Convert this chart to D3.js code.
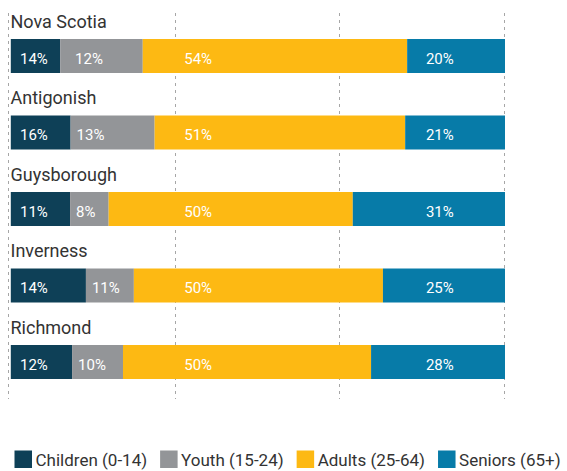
<!DOCTYPE html>
<meta charset="utf-8" />
<style>
    body { margin: 0; background: #fff; }
    text { font-family: Roboto, "Noto Sans", sans-serif; }
    .grid line { stroke: #a6a6a6; stroke-width: 1; stroke-dasharray: 3, 4; }
</style>
<svg width="567" height="471"></svg>
<script src="https://d3js.org/d3.v7.min.js"></script>
<script>
    // regions (rows, top to bottom)
    var regions = ["Nova Scotia", "Antigonish", "Guysborough", "Inverness", "Richmond"];
    var groups = ["Children (0-14)", "Youth (15-24)", "Adults (25-64)", "Seniors (65+)"];
    var colors = ["#0e4057", "#939598", "#fdb913", "#077ba8"];

    // bar shares as drawn
    var children = [10, 12.1, 12, 15.2, 12.4];
    var youth = [16.7, 17, 7.8, 9.7, 10.3];
    var adults = [53.5, 50.7, 49.4, 50.4, 50.2];
    var seniors = [19.8, 20.2, 30.8, 24.7, 27.1];

    // printed percentages
    var childrenPct = [14, 16, 11, 14, 12];
    var youthPct = [12, 13, 8, 11, 10];
    var adultsPct = [54, 51, 50, 50, 50];
    var seniorsPct = [20, 21, 31, 25, 28];

    var gridTicks = [0, 100 / 3, 200 / 3, 100];

    var svg = d3.select("svg");

    var shares = [children, youth, adults, seniors];
    var pcts = [childrenPct, youthPct, adultsPct, seniorsPct];

    var rows = regions.map(function (r, i) {
        var row = { region: r };
        groups.forEach(function (g, j) {
            row[g] = shares[j][i];
            row["pct" + j] = pcts[j][i];
        });
        return row;
    });

    var series = d3.stack().keys(groups)(rows);

    var x = d3.scaleLinear().domain([0, 100]).range([10.8, 505]);
    var y = d3.scaleBand().domain(regions).range([39, 379])
        .paddingInner(0.5556).paddingOuter(0);

    // dotted gridlines
    svg.append("g")
        .attr("class", "grid")
        .selectAll("line")
        .data(gridTicks)
        .enter()
        .append("line")
        .attr("x1", function (d) { return Math.round(x(d)) - (d === 0 ? 2.5 : 0.5); })
        .attr("x2", function (d) { return Math.round(x(d)) - (d === 0 ? 2.5 : 0.5); })
        .attr("y1", 13)
        .attr("y2", 399);

    // bars
    var layer = svg.append("g")
        .selectAll("g")
        .data(series)
        .enter()
        .append("g")
        .attr("fill", function (d, i) { return colors[i]; });

    layer.selectAll("rect")
        .data(function (d) { return d; })
        .enter()
        .append("rect")
        .attr("x", function (d) { return x(d[0]); })
        .attr("width", function (d) { return x(d[1]) - x(d[0]); })
        .attr("y", function (d) { return y(d.data.region); })
        .attr("height", y.bandwidth());

    // region titles
    svg.append("g")
        .selectAll("text")
        .data(regions)
        .enter()
        .append("text")
        .attr("x", 10.5)
        .attr("y", function (d) { return y(d) - 11.5; })
        .attr("font-size", "18px")
        .attr("fill", "#333")
        .text(function (d) { return d; });

    // percentage labels sit in columns, pushed right if the segment starts later
    var labelCols = [1.86, 13, 35.1, 84];
    series.forEach(function (s, j) {
        svg.append("g")
            .selectAll("text")
            .data(s)
            .enter()
            .append("text")
            .attr("x", function (d) {
                return Math.max(x(labelCols[j]), x(d[0]) + (j === 0 ? 9 : 6));
            })
            .attr("y", function (d) { return y(d.data.region) + 24.5; })
            .attr("font-size", "15px")
            .attr("fill", "#fff")
            .text(function (d) { return d.data["pct" + j] + "%"; });
    });

    // legend
    var legend = svg.append("g").attr("transform", "translate(14.5,450.5)");
    var lx = 0;
    groups.forEach(function (g, i) {
        var item = legend.append("g").attr("transform", "translate(" + lx + ",0)");
        item.append("rect")
            .attr("width", 17.5)
            .attr("height", 17.5)
            .attr("fill", colors[i]);
        var t = item.append("text")
            .attr("x", 21)
            .attr("y", 15)
            .attr("font-size", "17px")
            .attr("fill", "#333")
            .text(g);
        lx += 21 + t.node().getComputedTextLength() + 13;
    });
</script>
